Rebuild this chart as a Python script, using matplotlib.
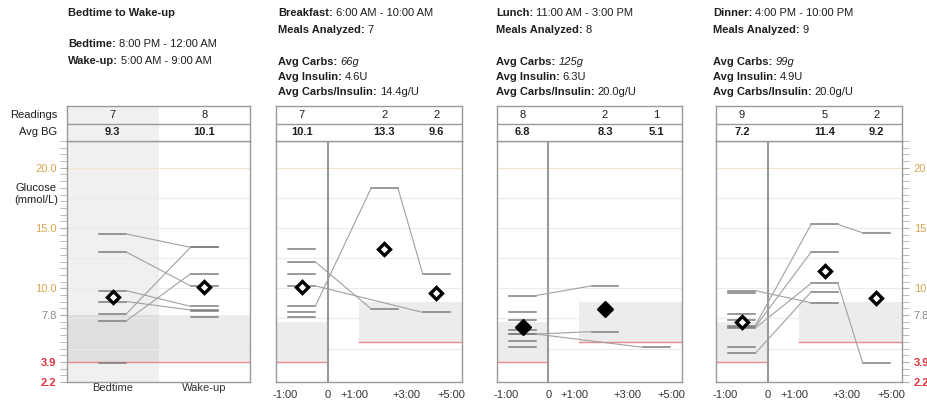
import numpy as np
import matplotlib
matplotlib.use('Agg')
import matplotlib.pyplot as plt

plt.rcParams['font.family'] = ['Liberation Sans', 'DejaVu Sans']
plt.rcParams['font.size'] = 8

W, H = 928, 401
nan = np.nan

# lecturas de glucosa (mmol/L), una posicion por noche / comida
bedtime_bg = [14.5, 13.0, 9.8, 8.9, 7.9, 7.3, 3.8, nan, nan]
wakeup_bg = [13.4, 10.2, 8.5, 8.2, 13.4, 11.2, nan, 8.1, 7.6]

breakfast_pre = [13.3, 12.2, 11.2, 10.2, 8.5, 8.0, 7.6]
breakfast_post1 = [nan, 8.3, nan, nan, 18.3, nan, nan]
breakfast_post2 = [nan, nan, nan, 8.0, 11.2, nan, nan]

lunch_pre = [9.4, 8.0, 7.4, 6.5, 6.2, 6.2, 5.6, 5.1]
lunch_post1 = [10.2, nan, nan, nan, 6.4, nan, nan, nan]
lunch_post2 = [nan, nan, nan, nan, nan, 5.1, nan, nan]

dinner_pre = [9.8, 9.6, 7.9, 7.4, 6.9, 6.8, 6.7, 5.1, 4.6]
dinner_post1 = [8.8, nan, nan, nan, 15.3, 13.0, 10.4, nan, 9.7]
dinner_post2 = [nan, nan, nan, nan, 14.6, nan, 3.8, nan, nan]

# textos de cabecera
meal_names = ['Breakfast', 'Lunch', 'Dinner']
meal_times = ['6:00 AM - 10:00 AM', '11:00 AM - 3:00 PM', '4:00 PM - 10:00 PM']
meals_analyzed = ['7', '8', '9']
avg_carbs = ['66g', '125g', '99g']
avg_insulin = ['4.6U', '6.3U', '4.9U']
carb_ratio = ['14.4g/U', '20.0g/U', '20.0g/U']

night_labels = ['Bedtime', 'Wake-up']
meal_tick_labels = ['-1:00', '0', '+1:00', '+3:00', '+5:00']

# eje y (mg/dL -> mmol/L)
y_major = [40 / 18, 70 / 18, 140 / 18, 10.0, 15.0, 20.0]
y_major_labels = ['2.2', '3.9', '7.8', '10.0', '15.0', '20.0']
y_label_colors = ['#e0303a', '#e0303a', '#8a8a8a', '#d9a64e', '#d9a64e', '#d9a64e']
y_minor = np.arange(40, 401, 10) / 18
YMIN, YMAX = 40 / 18, 400 / 18

fig = plt.figure(figsize=(W / 100, H / 100), dpi=100)
renderer = fig.canvas.get_renderer()

GRAY = '#9a9a9a'
TXT = '#1e1e1e'


def rect(x0, y0, x1, y1):
    return [x0 / W, 1 - y1 / H, (x1 - x0) / W, (y1 - y0) / H]


def pair_text(x, y, label, value, italic=False):
    t = fig.text(x / W, 1 - y / H, label + ':', fontweight='bold', va='center',
                 ha='left', color=TXT)
    bb = t.get_window_extent(renderer=renderer)
    fig.text((bb.x1 + 3) / W, 1 - y / H, value, style='italic' if italic else 'normal',
             va='center', ha='left', color=TXT)


def style_box(ax):
    for s in ax.spines.values():
        s.set_color(GRAY)
        s.set_linewidth(1)


def grid_lines(ax, x0, x1):
    for v in [5, 7.5, 10, 12.5, 15, 17.5]:
        ax.plot([x0, x1], [v, v], color='#ebebeb', lw=0.8, zorder=1)
    ax.plot([x0, x1], [20, 20], color='#f2e6c4', lw=0.8, zorder=1)


def draw_readings(ax, columns, centers, hw):
    n = len(columns[0])
    for i in range(n):
        pts = [(centers[k], columns[k][i]) for k in range(len(columns))
               if not np.isnan(columns[k][i])]
        for c, v in pts:
            ax.plot([c - hw, c + hw], [v, v], color='#7d7d7d', lw=1.1, zorder=3)
        for (ca, va), (cb, vb) in zip(pts[:-1], pts[1:]):
            ax.plot([ca + hw, cb - hw], [va, vb], color='#a0a0a0', lw=0.8, zorder=3)


def draw_means(ax, columns, centers, filled):
    for c, col in zip(centers, columns):
        vals = np.array(col, dtype=float)
        # con una sola lectura no se dibuja el promedio
        if np.sum(~np.isnan(vals)) < 2:
            continue
        m = np.nanmean(vals)
        if filled:
            ax.plot(c, m, marker='D', ms=8, color='black', zorder=5)
        else:
            ax.plot(c, m, marker='D', ms=6.6, mfc='white', mec='black', mew=2.4, zorder=5)


def header_table(axh, columns, centers, xlim):
    axh.set_xlim(*xlim)
    axh.set_ylim(0, 2)
    axh.set_xticks([])
    axh.set_yticks([])
    style_box(axh)
    axh.plot(xlim, [1, 1], color=GRAY, lw=1)
    for c, col in zip(centers, columns):
        vals = np.array(col, dtype=float)
        cnt = int(np.sum(~np.isnan(vals)))
        axh.text(c, 1.5, str(cnt), ha='center', va='center', color=TXT)
        axh.text(c, 0.5, '%.1f' % np.nanmean(vals), ha='center', va='center',
                 fontweight='bold', color=TXT)


# ---------------- panel 1: bedtime to wake-up ----------------
ax1 = fig.add_axes(rect(67, 141, 250, 382))
ax1h = fig.add_axes(rect(67, 106, 250, 141))
night_cols = [bedtime_bg, wakeup_bg]
night_centers = [0.5, 1.5]

ax1.set_xlim(0, 2)
ax1.set_ylim(YMIN, YMAX)
style_box(ax1)
ax1.axvspan(0, 1, color='black', alpha=0.06, lw=0, zorder=0)
ax1h.axvspan(0, 1, color='black', alpha=0.06, lw=0, zorder=0)
ax1.axhspan(70 / 18, 140 / 18, color='black', alpha=0.07, lw=0, zorder=0)
grid_lines(ax1, 0, 2)
ax1.plot([0, 2], [70 / 18, 70 / 18], color='#f08a8a', lw=1, zorder=2)
draw_readings(ax1, night_cols, night_centers, 0.15)
draw_means(ax1, night_cols, night_centers, False)
header_table(ax1h, night_cols, night_centers, (0, 2))

ax1.set_xticks(night_centers)
ax1.set_xticklabels(night_labels, color='#333333')
ax1.tick_params(axis='x', length=0, pad=1)
ax1.set_yticks(y_minor, minor=True)
ax1.set_yticks(y_major)
ax1.set_yticklabels(y_major_labels)
for lab, col in zip(ax1.get_yticklabels(), y_label_colors):
    lab.set_color(col)
    if col == '#e0303a':
        lab.set_fontweight('bold')
ax1.tick_params(axis='y', which='both', direction='out', length=5, color='#b0b0b0', pad=2.5)

fig.text(58 / W, 1 - 194 / H, 'Glucose\n(mmol/L)', ha='right', va='center',
         multialignment='center', color=TXT, linespacing=1.15)
fig.text(57 / W, 1 - 115 / H, 'Readings', ha='right', va='center', color=TXT)
fig.text(57 / W, 1 - 132 / H, 'Avg BG', ha='right', va='center', color=TXT)

fig.text(68 / W, 1 - 13 / H, 'Bedtime to Wake-up', fontweight='bold', va='center', color=TXT)
pair_text(68, 44, 'Bedtime', '8:00 PM - 12:00 AM')
pair_text(68, 61, 'Wake-up', '5:00 AM - 9:00 AM')

# ---------------- meal panels ----------------
meal_cols = [
    [breakfast_pre, breakfast_post1, breakfast_post2],
    [lunch_pre, lunch_post1, lunch_post2],
    [dinner_pre, dinner_post1, dinner_post2],
]
panel_px = [(276, 462), (497, 682), (716, 902)]
title_px = [278, 496, 713]
diamond_filled = [False, True, False]
meal_centers = [-1.0, 2.2, 4.2]
meal_ticks = [-1.65, 0, 1.02, 3.06, 4.8]
XL = (-2, 5.2)

for k in range(3):
    x0, x1 = panel_px[k]
    ax = fig.add_axes(rect(x0, 141, x1, 382))
    axh = fig.add_axes(rect(x0, 106, x1, 141))
    ax.set_xlim(*XL)
    ax.set_ylim(YMIN, YMAX)
    style_box(ax)

    # rangos objetivo antes / despues de comer
    ax.fill_between([-2, 0], 70 / 18, 130 / 18, color='#ececec', lw=0, zorder=0)
    ax.fill_between([1.2, 5.2], 100 / 18, 160 / 18, color='#ececec', lw=0, zorder=0)
    grid_lines(ax, XL[0], XL[1])
    ax.plot([-2, 0], [70 / 18, 70 / 18], color='#f08a8a', lw=1, zorder=2)
    ax.plot([1.2, 5.2], [100 / 18, 100 / 18], color='#f08a8a', lw=1, zorder=2)
    ax.axvline(0, color=GRAY, lw=1.5, zorder=2)

    draw_readings(ax, meal_cols[k], meal_centers, 0.52)
    draw_means(ax, meal_cols[k], meal_centers, diamond_filled[k])
    header_table(axh, meal_cols[k], meal_centers, XL)

    ax.set_xticks(meal_ticks)
    ax.set_xticklabels(meal_tick_labels, color='#333333')
    ax.tick_params(axis='x', length=0, pad=6)
    if k == 2:
        # eje derecho, las etiquetas quedan cortadas en el borde como en el original
        ax.yaxis.tick_right()
        ax.set_yticks(y_minor, minor=True)
        ax.set_yticks(y_major)
        ax.set_yticklabels(y_major_labels)
        for lab, col in zip(ax.get_yticklabels(), y_label_colors):
            lab.set_color(col)
            if col == '#e0303a':
                lab.set_fontweight('bold')
        ax.tick_params(axis='y', which='both', direction='out', length=5,
                       color='#b0b0b0', pad=3.5)
    else:
        ax.set_yticks([])

    tx = title_px[k]
    pair_text(tx, 13, meal_names[k], meal_times[k])
    pair_text(tx, 30, 'Meals Analyzed', meals_analyzed[k])
    pair_text(tx, 62, 'Avg Carbs', avg_carbs[k], italic=True)
    pair_text(tx, 77, 'Avg Insulin', avg_insulin[k])
    pair_text(tx, 92, 'Avg Carbs/Insulin', carb_ratio[k])

fig.savefig('out.png', dpi=100)
